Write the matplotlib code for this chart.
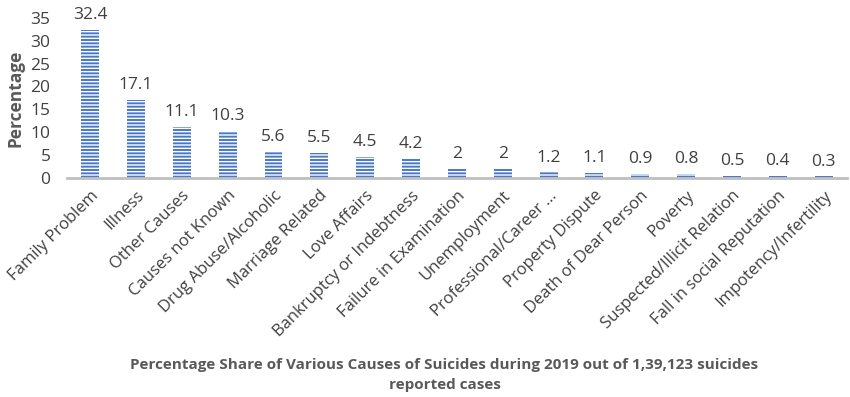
import matplotlib.pyplot as plt
import numpy as np

plt.rcParams['font.family'] = ['Open Sans', 'DejaVu Sans']
plt.rcParams['hatch.linewidth'] = 1.0

# data
causes = ["Family Problem", "Illness", "Other Causes", "Causes not Known",
          "Drug Abuse/Alcoholic", "Marriage Related", "Love Affairs",
          "Bankruptcy or Indebtness", "Failure in Examination", "Unemployment",
          "Professional/Career ...", "Property Dispute", "Death of Dear Person",
          "Poverty", "Suspected/Illicit Relation", "Fall in social Reputation",
          "Impotency/Infertility"]
share = [32.4, 17.1, 11.1, 10.3, 5.6, 5.5, 4.5, 4.2, 2, 2, 1.2, 1.1, 0.9, 0.8, 0.5, 0.4, 0.3]
labels = ["32.4", "17.1", "11.1", "10.3", "5.6", "5.5", "4.5", "4.2", "2", "2",
          "1.2", "1.1", "0.9", "0.8", "0.5", "0.4", "0.3"]

txt = '#404040'
fs = 12.5
fig = plt.figure(figsize=(8.5, 3.97), dpi=100)
ax = fig.add_axes([0.079, 0.552, 0.917, 0.403])

x = np.arange(len(causes))
ax.bar(x, share, width=0.39, color='#4a78c8', edgecolor='white', linewidth=0, hatch='-----')

for xi, v, s in zip(x, share, labels):
    ax.text(xi, v + 1.5, s, ha='center', va='bottom', fontsize=fs, color=txt, clip_on=False)

ax.set_xlim(-0.5, len(causes) - 0.5)
ax.set_ylim(0, 35)
ax.set_yticks(range(0, 36, 5))
ax.set_xticks(x)
ax.set_xticklabels(causes, rotation=45, ha='right', rotation_mode='anchor', fontsize=12, color=txt)
ax.tick_params(axis='y', length=0, labelsize=fs, labelcolor=txt, pad=12)
ax.tick_params(axis='x', length=0, pad=7)

for s in ['top', 'right', 'left']:
    ax.spines[s].set_visible(False)
ax.spines['bottom'].set_color('#bfbfbf')
ax.spines['bottom'].set_linewidth(2)

ax.set_ylabel("Percentage", fontsize=fs, fontweight='bold', color='#595959', labelpad=4)
fig.text(0.523, 0.012, "Percentage Share of Various Causes of Suicides during 2019 out of 1,39,123 suicides\nreported cases",
         ha='center', va='bottom', fontsize=11, fontweight='bold', color='#595959', linespacing=1.6)

fig.savefig('out.png', dpi=100)
